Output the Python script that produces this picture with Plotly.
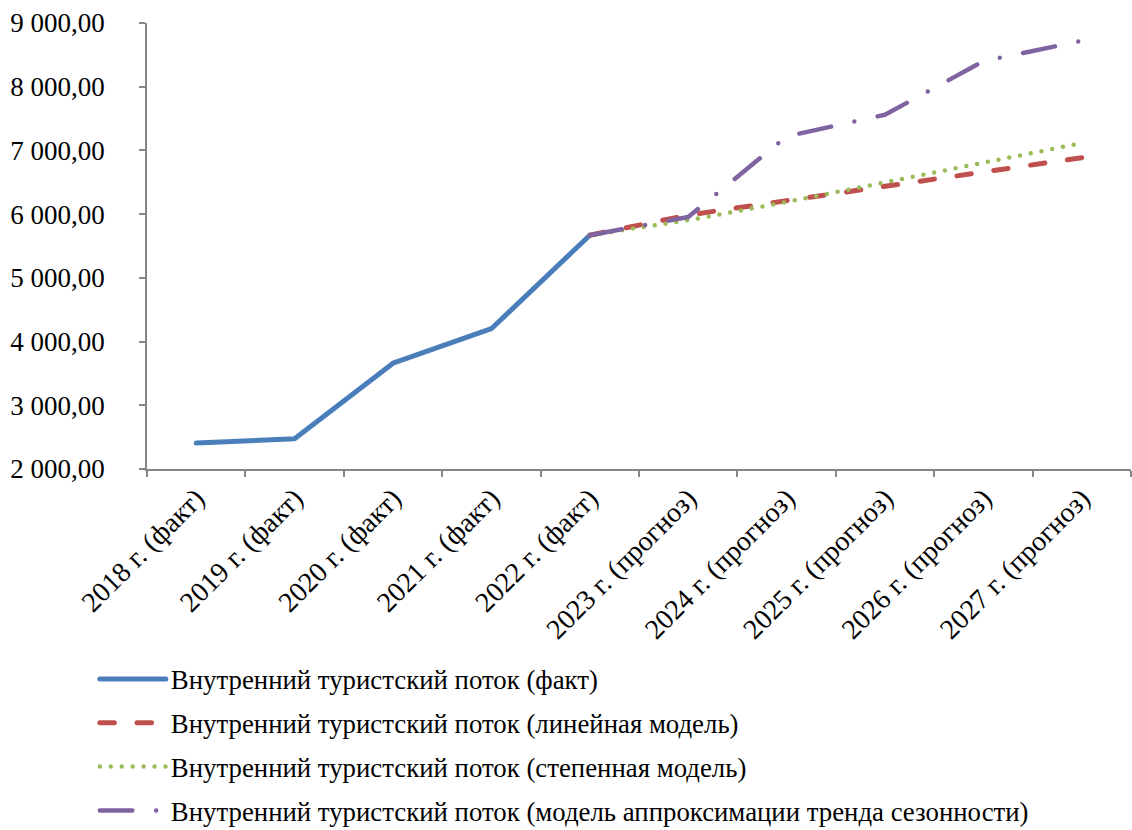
import plotly.graph_objects as go

# Categories (years) and series values, thousands of trips
years = ["2018 г. (факт)", "2019 г. (факт)", "2020 г. (факт)", "2021 г. (факт)",
         "2022 г. (факт)", "2023 г. (прогноз)", "2024 г. (прогноз)",
         "2025 г. (прогноз)", "2026 г. (прогноз)", "2027 г. (прогноз)"]

fact_years = years[:5]
fact_values = [2407, 2474, 3660, 4202, 5669]

forecast_years = years[4:]
linear_values = [5669, 5985, 6212, 6440, 6661, 6886]
power_values = [5669, 5905, 6191, 6502, 6812, 7115]
seasonal_values = [5669, 5955, 7220, 7560, 8400, 8720]

series_names = [
    "Внутренний туристский поток (факт)",
    "Внутренний туристский поток (линейная модель)",
    "Внутренний туристский поток (степенная модель)",
    "Внутренний туристский поток (модель аппроксимации тренда сезонности)",
]

y_tick_values = [2000, 3000, 4000, 5000, 6000, 7000, 8000, 9000]
y_tick_labels = ["2 000,00", "3 000,00", "4 000,00", "5 000,00",
                 "6 000,00", "7 000,00", "8 000,00", "9 000,00"]

FONT = "Liberation Serif, Times New Roman, serif"
AXIS_GREY = "#868686"

fig = go.Figure()
fig.add_trace(go.Scatter(x=fact_years, y=fact_values, mode="lines",
                         name=series_names[0], legendgroup="a",
                         line=dict(color="#4A7EBB", width=5)))
fig.add_trace(go.Scatter(x=forecast_years, y=linear_values, mode="lines",
                         name=series_names[1], legendgroup="b",
                         line=dict(color="#C0504D", width=5,
                                   dash="14.5px,22.7px")))
fig.add_trace(go.Scatter(x=forecast_years, y=power_values, mode="lines",
                         name=series_names[2], legendgroup="c",
                         line=dict(color="#9BBB59", width=4.5,
                                   dash="0px,10.94px")))
fig.add_trace(go.Scatter(x=forecast_years, y=seasonal_values, mode="lines",
                         name=series_names[3], legendgroup="d",
                         line=dict(color="#8064A2", width=4.5,
                                   dash="32.5px,23.8px,0px,23.8px")))

fig.update_layout(
    width=1132, height=830,
    margin=dict(l=147, r=1, t=22.7, b=360.7, autoexpand=False),
    paper_bgcolor="white", plot_bgcolor="white",
    font=dict(family=FONT, size=27, color="black"),
    showlegend=True,
    legend=dict(x=-0.053, y=-0.417, xanchor="left", yanchor="top",
                orientation="v", traceorder="grouped", tracegroupgap=6,
                itemwidth=66, font=dict(family=FONT, size=26.8, color="black"),
                bgcolor="rgba(0,0,0,0)"),
)
fig.update_xaxes(
    type="category", categoryorder="array", categoryarray=years,
    range=[-0.5, len(years) - 0.5], automargin=False,
    showline=True, linecolor=AXIS_GREY, linewidth=1.5,
    ticks="outside", tickson="boundaries", ticklen=6, tickcolor=AXIS_GREY,
    tickwidth=1.5, tickangle=-45, showgrid=False, zeroline=False,
    tickfont=dict(family=FONT, size=28, color="black"),
)
fig.update_yaxes(
    range=[2000, 9000], tickvals=y_tick_values, ticktext=y_tick_labels,
    automargin=False,
    showline=True, linecolor=AXIS_GREY, linewidth=1.5,
    ticks="outside", ticklen=6, tickcolor=AXIS_GREY, tickwidth=1.5,
    ticklabelstandoff=29, showgrid=False, zeroline=False,
    tickfont=dict(family=FONT, size=27, color="black"),
)

round_caps = ("var s=document.createElement('style');"
              "s.textContent='.js-line{stroke-linecap:round;stroke-linejoin:round}';"
              "document.head.appendChild(s);")
fig.write_html("out.html", post_script=round_caps)
